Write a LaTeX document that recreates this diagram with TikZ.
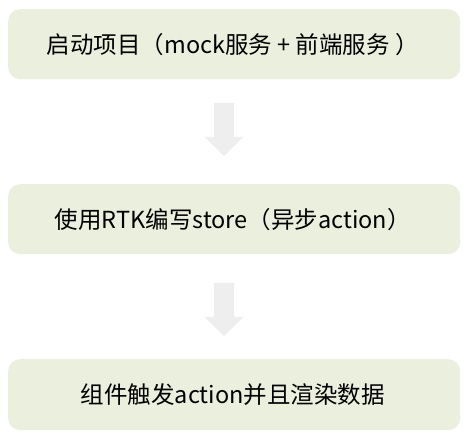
\documentclass[tikz,border=0pt]{standalone}
\usepackage{fontspec}
\newfontfamily\cjk{Noto Sans CJK SC}
\definecolor{boxfill}{HTML}{EBEFDD}
\definecolor{arrowfill}{HTML}{EEEEEE}
\tikzset{
  stepbox/.style={draw=none, fill=boxfill, rounded corners=12pt, minimum width=452pt, minimum height=70pt, inner sep=0pt, anchor=north west, font=\cjk\fontsize{23.5}{28}\selectfont, text=black},
  blockarrow/.style={fill=arrowfill, draw=none}
}
\begin{document}
\begin{tikzpicture}[x=1pt,y=-1pt]
\useasboundingbox (0,0) rectangle (474,443);
\node[stepbox] (a) at (8,9) {\hspace*{-3pt}启动项目（mock服务 + 前端服务 ）};
\node[stepbox] (b) at (8,184) {\hspace*{-3pt}使用RTK编写store（异步action）};
\node[stepbox, minimum height=71pt] (c) at (8,359) {\hspace*{-3pt}组件触发action并且渲染数据};
\coordinate (t1) at (224,103);
\coordinate (t2) at (224,283);
\foreach \t in {t1,t2}{
  \fill[blockarrow] (\t) ++(-10,0) -- ++(20,0) -- ++(0,34) -- ++(9.5,0) -- ++(-19.5,19) -- ++(-19.5,-19) -- ++(9.5,0) -- cycle;
}
\end{tikzpicture}
\end{document}
